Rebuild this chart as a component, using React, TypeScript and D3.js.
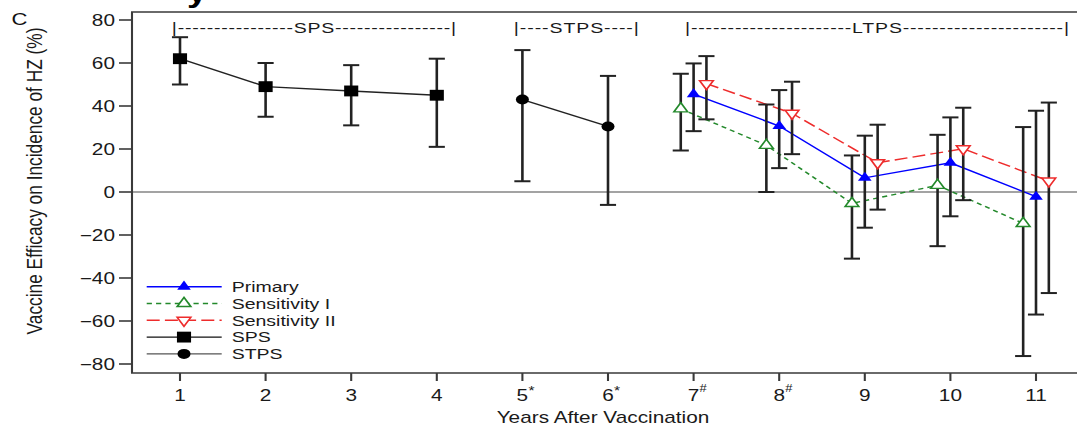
import React from 'react';
import * as d3 from 'd3';

// horizontal stretch of the reference picture
const S = 1.3;
const W = 1077 / S;
const H = 425;

// ---- data ----
const spsYears = [1, 2, 3, 4];
const spsVE = [62, 49, 47, 45];
const spsLower = [50, 35, 31, 21];
const spsUpper = [72, 60, 59, 62];

const stpsYears = [5, 6];
const stpsVE = [43, 30.5];
const stpsLower = [5, -6];
const stpsUpper = [66, 54];

const ltpsYears = [7, 8, 9, 10, 11];
const primaryVE = [45.5, 30.7, 6.6, 13.6, -2.2];
const primaryLower = [28.3, 11.1, -16.6, -11.3, -57];
const primaryUpper = [59.8, 47.4, 26.2, 34.7, 37.8];

const sens1VE = [38.7, 21.7, -5.3, 3.1, -14.6];
const sens1Lower = [19.3, 0, -31, -25.2, -76.3];
const sens1Upper = [55, 40.7, 17, 26.6, 30.2];

const sens2VE = [50.4, 36.6, 13.6, 20.1, 5.1];
const sens2Lower = [33.8, 17.6, -8.2, -3.8, -47];
const sens2Upper = [63.2, 51.3, 31.3, 39.2, 41.6];

const xTicks = [1, 2, 3, 4, 5, 6, 7, 8, 9, 10, 11];
const xTickLabels = ['1', '2', '3', '4', '5', '6', '7', '8', '9', '10', '11'];
const xTickMarks = ['', '', '', '', '*', '*', '#', '#', '', '', ''];
const yTicks = [80, 60, 40, 20, 0, -20, -40, -60, -80];

const headerLabels = ['SPS', 'STPS', 'LTPS'];
const headerStart = [0.905, 4.9, 6.9];
const headerEnd = [4.225, 6.36, 11.385];
const headerDashes = [16, 4, 22];

const legendLabels = ['Primary', 'Sensitivity I', 'Sensitivity II', 'SPS', 'STPS'];

const BLUE = '#0000ff';
const GREEN = '#23892b';
const RED = '#ee2c2c';
const INK = '#222';
const FONT = '"Liberation Sans", Arial, Helvetica, sans-serif';

const x = d3.scaleLinear().domain([1, 11]).range([180 / S, 1036 / S]);
const y = d3.scaleLinear().domain([-80, 80]).range([364, 20]);

const plotLeft = 132 / S;
const plotRight = W + 10;
const plotTop = 12;
const plotBottom = 373;

const sq = d3.symbol(d3.symbolSquare, 118)()!;
const circ = d3.symbol(d3.symbolCircle, Math.PI * 25)()!;
const tri = d3.symbol(d3.symbolTriangle, 48)()!;

type MarkerKind = 'sq' | 'circ' | 'triUp' | 'triUpOpen' | 'triDownOpen';

type Series = {
  name: string;
  years: number[];
  ve: number[];
  lo: number[];
  hi: number[];
  offset: number;
  color: string;
  dash?: string;
  lineColor: string;
  marker: MarkerKind;
};

const series: Series[] = [
  { name: 'SPS', years: spsYears, ve: spsVE, lo: spsLower, hi: spsUpper, offset: 0, color: '#000', lineColor: '#222', marker: 'sq' },
  { name: 'STPS', years: stpsYears, ve: stpsVE, lo: stpsLower, hi: stpsUpper, offset: 0, color: '#000', lineColor: '#222', marker: 'circ' },
  { name: 'Sensitivity I', years: ltpsYears, ve: sens1VE, lo: sens1Lower, hi: sens1Upper, offset: -0.15, color: GREEN, lineColor: GREEN, dash: '4,3.2', marker: 'triUpOpen' },
  { name: 'Primary', years: ltpsYears, ve: primaryVE, lo: primaryLower, hi: primaryUpper, offset: 0, color: BLUE, lineColor: BLUE, marker: 'triUp' },
  { name: 'Sensitivity II', years: ltpsYears, ve: sens2VE, lo: sens2Lower, hi: sens2Upper, offset: 0.15, color: RED, lineColor: RED, dash: '10,4', marker: 'triDownOpen' },
];

const legendStyle: Record<string, { color: string; dash?: string; marker: MarkerKind; lineColor: string }> = {
  'Primary': { color: BLUE, lineColor: BLUE, marker: 'triUp' },
  'Sensitivity I': { color: GREEN, lineColor: GREEN, dash: '4,3.2', marker: 'triUpOpen' },
  'Sensitivity II': { color: RED, lineColor: RED, dash: '10,4', marker: 'triDownOpen' },
  'SPS': { color: '#000', lineColor: '#111', marker: 'sq' },
  'STPS': { color: '#000', lineColor: '#555', marker: 'circ' },
};

function Marker({ kind, cx, cy, color }: { kind: MarkerKind; cx: number; cy: number; color: string }) {
  if (kind === 'sq') return <path d={sq} transform={`translate(${cx},${cy})`} fill={color} />;
  if (kind === 'circ') return <path d={circ} transform={`translate(${cx},${cy})`} fill={color} />;
  if (kind === 'triUp') return <path d={tri} transform={`translate(${cx},${cy})`} fill={color} />;
  if (kind === 'triUpOpen')
    return <path d={tri} transform={`translate(${cx},${cy})`} fill="#fff" stroke={color} strokeWidth={1.4} />;
  return <path d={tri} transform={`translate(${cx},${cy}) rotate(180)`} fill="#fff" stroke={color} strokeWidth={1.4} />;
}

export default function App() {
  const line = d3
    .line<[number, number]>()
    .x((d) => d[0])
    .y((d) => d[1]);
  const capHalf = 6.2;
  const legendRowY = (i: number) => 286.7 + i * 16.8;

  return (
    <svg
      width={1077}
      height={425}
      viewBox={`0 0 ${W} ${H}`}
      preserveAspectRatio="none"
      style={{ position: 'absolute', left: 0, top: 0, background: '#fff' }}
      fontFamily={FONT}
    >
      <rect x={0} y={0} width={W} height={H} fill="#fff" />
      {/* descender of the title above, cut by the picture's edge */}
      <text x={187 / S} y={2} fontSize={28} fontWeight="bold" fill="#000">
        y
      </text>
      <text x={11.5 / S} y={25} fontSize={17} fill="#111">
        C
      </text>

      {/* zero line */}
      <line x1={plotLeft} x2={plotRight} y1={y(0)} y2={y(0)} stroke="#a3a3a3" strokeWidth={2} />

      {/* frame */}
      <path
        d={`M${plotRight},${plotTop}H${plotLeft}V${plotBottom}H${plotRight}`}
        fill="none"
        stroke="#3a3a3a"
        strokeWidth={1.6}
      />

      {/* y axis ticks */}
      {yTicks.map((v) => (
        <g key={v}>
          <line x1={plotLeft - 13 / S} x2={plotLeft} y1={y(v)} y2={y(v)} stroke="#3a3a3a" strokeWidth={1.6} />
          <text x={115 / S} y={y(v) + 5.6} fontSize={16} textAnchor="end" fill="#1a1a1a">
            {v < 0 ? `\u2212${-v}` : `${v}`}
          </text>
        </g>
      ))}

      {/* x axis ticks */}
      {xTicks.map((v, i) => (
        <g key={v}>
          <line x1={x(v)} x2={x(v)} y1={plotBottom} y2={plotBottom + 8} stroke="#3a3a3a" strokeWidth={1.6} />
          <text x={x(v)} y={401} fontSize={16} textAnchor="middle" fill="#1a1a1a">
            {xTickLabels[i]}
          </text>
          {xTickMarks[i] && (
            <text x={x(v) + 6 / S} y={xTickMarks[i] === '*' ? 395 : 392} fontSize={xTickMarks[i] === '*' ? 12 : 10} fill="#1a1a1a">
              {xTickMarks[i]}
            </text>
          )}
        </g>
      ))}

      <text x={603 / S} y={423} fontSize={16} textAnchor="middle" fill="#1a1a1a">
        Years After Vaccination
      </text>
      <text
        transform={`translate(${41.5 / S},${181}) rotate(-90)`}
        fontSize={17.3}
        textAnchor="middle"
        fill="#1a1a1a"
      >
        Vaccine Efficacy on Incidence of HZ (%)
      </text>

      {/* study headers */}
      {headerLabels.map((lab, i) => {
        const d = '-'.repeat(headerDashes[i]);
        return (
          <text
            key={lab}
            x={x(headerStart[i])}
            y={33.5}
            fontSize={15}
            fill="#1a1a1a"
            textLength={x(headerEnd[i]) - x(headerStart[i])}
            lengthAdjust="spacing"
          >
            {`|${d}${lab}${d}|`}
          </text>
        );
      })}

      {/* connecting lines */}
      {series.map((s) => (
        <path
          key={s.name + 'line'}
          d={line(s.years.map((yr, i) => [x(yr + s.offset), y(s.ve[i])] as [number, number]))!}
          fill="none"
          stroke={s.lineColor}
          strokeWidth={1.4}
          strokeDasharray={s.dash}
        />
      ))}

      {/* error bars */}
      {series.map((s) =>
        s.years.map((yr, i) => {
          const cx = x(yr + s.offset);
          return (
            <g key={s.name + 'eb' + yr} stroke={INK} strokeWidth={2}>
              <line x1={cx} x2={cx} y1={y(s.hi[i])} y2={y(s.lo[i])} />
              <line x1={cx - capHalf} x2={cx + capHalf} y1={y(s.hi[i])} y2={y(s.hi[i])} />
              <line x1={cx - capHalf} x2={cx + capHalf} y1={y(s.lo[i])} y2={y(s.lo[i])} />
            </g>
          );
        })
      )}

      {/* markers */}
      {series.map((s) =>
        s.years.map((yr, i) => (
          <Marker key={s.name + 'm' + yr} kind={s.marker} cx={x(yr + s.offset)} cy={y(s.ve[i])} color={s.color} />
        ))
      )}

      {/* legend */}
      {legendLabels.map((lab, i) => {
        const st = legendStyle[lab];
        const ry = legendRowY(i);
        return (
          <g key={lab}>
            <line
              x1={146.7 / S}
              x2={221.7 / S}
              y1={ry}
              y2={ry}
              stroke={st.lineColor}
              strokeWidth={1.4}
              strokeDasharray={st.dash}
            />
            <Marker kind={st.marker} cx={184 / S} cy={ry} color={st.color} />
            <text x={231.7 / S} y={ry + 5.4} fontSize={15} fill="#1a1a1a">
              {lab}
            </text>
          </g>
        );
      })}
    </svg>
  );
}
